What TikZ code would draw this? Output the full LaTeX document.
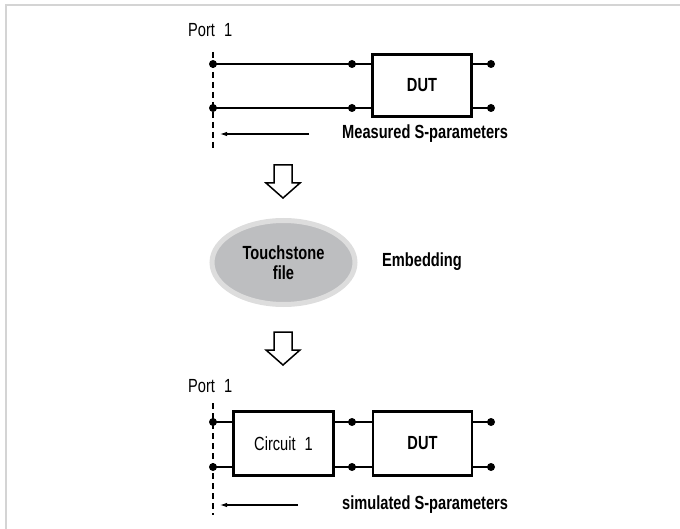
\documentclass[tikz,border=0pt]{standalone}
\usepackage{fontspec}
\setmainfont[FakeStretch=0.77]{Liberation Sans}
\usetikzlibrary{arrows.meta,shapes.geometric}
\begin{document}
\begin{tikzpicture}[x=1pt,y=-1pt,
  txt/.style={font=\fontsize{19}{20}\selectfont, inner sep=0pt},
  btxt/.style={font=\bfseries\fontsize{19}{20}\selectfont, inner sep=0pt},
  blk/.style={draw, line width=2.6pt, inner sep=0pt},
  term/.style={circle, fill, inner sep=0pt, minimum size=8pt},
  wire/.style={line width=1.4pt},
  refplane/.style={line width=1.3pt, dash pattern=on 6pt off 4pt},
  sig/.style={line width=1.1pt, -{Latex[length=7pt,width=4.5pt]}},
  hollow/.style={draw, line width=1.5pt, fill=white, line join=miter}]
\useasboundingbox (0,0) rectangle (680,529);
\clip (0,0) rectangle (680,529);
\draw[draw=black!17, line width=2pt] (6,5) rectangle (700,560);

% ---------- top: measurement ----------
\node[txt, anchor=west] (p1a) at (188,30) {Port\hspace{9pt}1};
\coordinate (dta) at (213,52);
\coordinate (dba) at (213,148);
\draw[refplane] (dta) -- (dba);

\node[blk, btxt, minimum width=99pt, minimum height=62pt] (duta) at (422,85.5) {DUT};
\node[term] (a1) at (213,64) {};
\node[term] (a2) at (213,108) {};
\node[term] (b1) at (352,64) {};
\node[term] (b2) at (352,108) {};
\node[term] (c1) at (491,64) {};
\node[term] (c2) at (491,108) {};
\draw[wire] (a1.center) -- (b1.center) -- (duta.west |- b1);
\draw[wire] (a2.center) -- (b2.center) -- (duta.west |- b2);
\draw[wire] (duta.east |- c1) -- (c1.center);
\draw[wire] (duta.east |- c2) -- (c2.center);

\coordinate (sa0) at (309,134);
\coordinate (sa1) at (220,134);
\draw[sig] (sa0) -- (sa1);
\node[btxt, anchor=west] (meas) at (342,134) {Measured S-parameters};

% ---------- hollow arrows ----------
\draw[hollow] (283,165) ++(-9,0) -- ++(18,0) -- ++(0,18) -- ++(8,0) -- ++(-17,15) -- ++(-17,-15) -- ++(8,0) -- cycle;

\node[ellipse, fill={rgb,255:red,189;green,190;blue,192}, draw={rgb,255:red,221;green,221;blue,221}, line width=5pt,
      minimum width=143pt, minimum height=84pt, inner sep=0pt] (ts) at (283.5,262.5) {};
\node[btxt, align=center] at (ts.center) {Touchstone\\file};
\node[btxt, anchor=west] (emb) at (382,262) {Embedding};

\draw[hollow] (283,332) ++(-9,0) -- ++(18,0) -- ++(0,18) -- ++(8,0) -- ++(-17,15) -- ++(-17,-15) -- ++(8,0) -- cycle;

% ---------- bottom: simulation ----------
\node[txt, anchor=west] (p1b) at (188,386) {Port\hspace{9pt}1};
\coordinate (dtb) at (213,403);
\coordinate (dbb) at (213,515);
\draw[refplane] (dtb) -- (dbb);

\node[blk, txt, minimum width=100pt, minimum height=64pt] (cir) at (283.5,443.5) {Circuit\hspace{9pt}1};
\node[blk, btxt, minimum width=99pt, minimum height=64pt] (dutb) at (422.5,443.5) {DUT};
\node[term] (d1) at (213,422) {};
\node[term] (d2) at (213,467) {};
\node[term] (e1) at (352,422) {};
\node[term] (e2) at (352,467) {};
\node[term] (f1) at (491,422) {};
\node[term] (f2) at (491,467) {};
\draw[wire] (d1.center) -- (cir.west |- d1);
\draw[wire] (d2.center) -- (cir.west |- d2);
\draw[wire] (cir.east |- e1) -- (dutb.west |- e1);
\draw[wire] (cir.east |- e2) -- (dutb.west |- e2);
\draw[wire] (dutb.east |- f1) -- (f1.center);
\draw[wire] (dutb.east |- f2) -- (f2.center);

\coordinate (sb0) at (298,505);
\coordinate (sb1) at (220,505);
\draw[sig] (sb0) -- (sb1);
\node[btxt, anchor=west] (sim) at (342,505) {simulated S-parameters};
\end{tikzpicture}
\end{document}
